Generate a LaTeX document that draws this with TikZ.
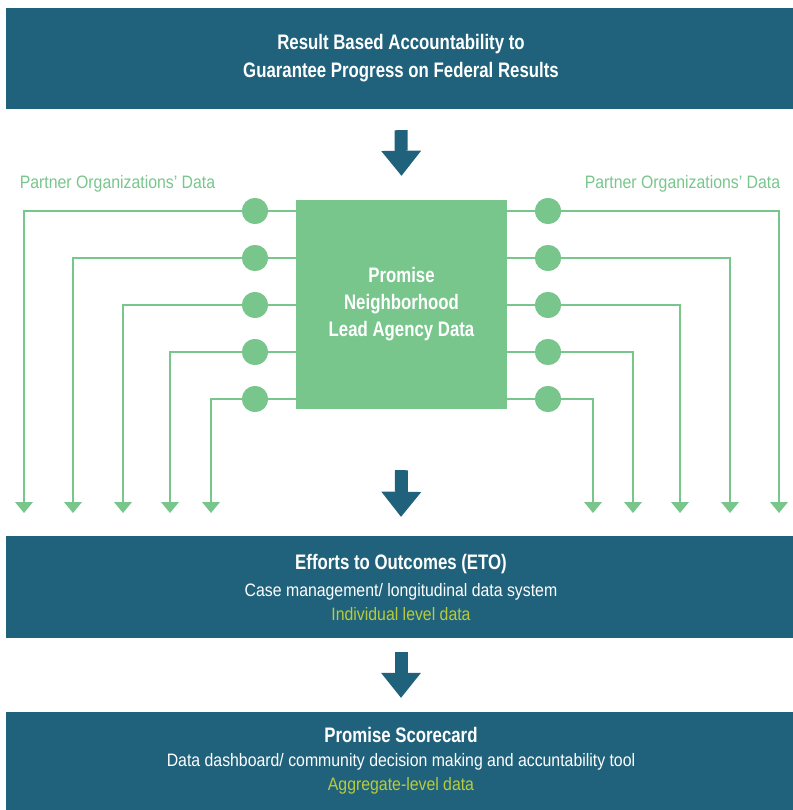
\documentclass[tikz,border=0pt]{standalone}
\usepackage{fontspec}
\setmainfont{Liberation Sans}[FakeStretch=0.88]
\newfontfamily\headfont{Liberation Sans}[FakeStretch=0.80]
\usepackage{tikz}
\usetikzlibrary{arrows.meta,calc}

\definecolor{pnteal}{RGB}{32,98,123}
\definecolor{pngreen}{RGB}{120,198,140}
\definecolor{pnlime}{RGB}{184,204,60}

\begin{document}
\begin{tikzpicture}[x=1pt,y=-1pt,
    band/.style={fill=pnteal, text=white, minimum width=790pt, inner sep=0pt, align=center},
    bigarrow/.style={draw=pnteal, line width=13pt, -{Triangle[width=40pt,length=25pt,line width=0pt]}},
    feed/.style={draw=pngreen, line width=2pt, -{Triangle[width=18pt,length=11pt,line width=0pt]}},
    link/.style={draw=pngreen, line width=2pt},
    dot/.style={circle, fill=pngreen, minimum size=26pt, inner sep=0pt},
    partner/.style={text=pngreen, font=\fontsize{18}{22}\selectfont}]
        \useasboundingbox (0,0) rectangle (792,810);

        % Top band
        \node[band, minimum height=101pt, font=\fontsize{21}{28}\selectfont\headfont\bfseries] (rba) at (401,58.5)
            {Result Based Accountability to\\Guarantee Progress on Federal Results};

        % Lead agency box
        \node[fill=pngreen, text=white, minimum width=211pt, minimum height=209pt, inner sep=0pt,
              align=center, font=\fontsize{21}{27}\selectfont\headfont\bfseries] (lead) at (401.5,304.5)
            {Promise\\Neighborhood\\Lead Agency Data};

        % Lower bands
        \node[band, minimum height=102pt, font=\fontsize{18}{24}\selectfont] (eto) at (401,587)
            {{\fontsize{21}{24}\selectfont\headfont\bfseries Efforts to Outcomes (ETO)}\\[3pt]
             Case management/ longitudinal data system\\
             {\color{pnlime} Individual level data}};
        \node[band, minimum height=98pt, font=\fontsize{18}{24}\selectfont] (score) at (401,761)
            {{\fontsize{21}{24}\selectfont\headfont\bfseries Promise Scorecard}\\
             Data dashboard/ community decision making and accuntability tool\\
             {\color{pnlime} Aggregate-level data}};

        % Partner labels
        \node[partner] (pleft) at (117.5,184) {Partner Organizations’ Data};
        \node[partner] (pright) at (682.5,184) {Partner Organizations’ Data};

        % Partner feeds
        \foreach \i/\y/\xl/\xr in {1/211/24/779, 2/258/73/730, 3/305/123/680, 4/352/170/633, 5/399/211/593} {
            \coordinate (lend\i) at (\xl,513);
            \coordinate (rend\i) at (\xr,513);
            \draw[link] (lead.west |- 0,\y) -- (255,\y);
            \draw[link] (lead.east |- 0,\y) -- (548,\y);
            \node[dot] (l\i) at (255,\y) {};
            \node[dot] (r\i) at (548,\y) {};
            \draw[feed] (l\i.center) -| (lend\i);
            \draw[feed] (r\i.center) -| (rend\i);
            \node[dot] at (l\i) {};
            \node[dot] at (r\i) {};
        }

        % Block arrows
        \draw[bigarrow] ($(rba.south)+(0,21)$) -- ($(lead.north)+(0,-24)$);
        \draw[bigarrow] ($(lead.south)+(0,61)$) -- ($(eto.north)+(0,-19)$);
        \draw[bigarrow] ($(eto.south)+(0,14)$) -- ($(score.north)+(0,-14)$);
\end{tikzpicture}
\end{document}
